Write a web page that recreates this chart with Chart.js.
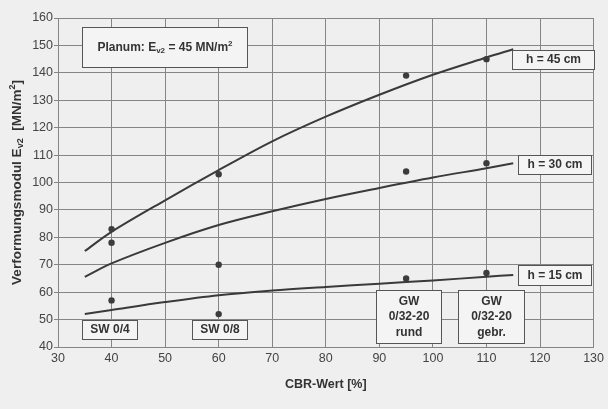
<!DOCTYPE html>
<html>
<head>
<meta charset="utf-8">
<script src="https://cdn.jsdelivr.net/npm/chart.js@4"></script>
<style>
  html, body { margin: 0; padding: 0; background: #efefef; }
  #wrap { width: 608px; height: 409px; }
</style>
</head>
<body>
<div id="wrap"><canvas id="chart"></canvas></div>
<script>
/*------ data ------*/
const cbrValues = [40, 60, 95, 110];
const points45 = [83, 103, 139, 145];
const points30 = [78, 70, 104, 107];
const points15 = [57, 52, 65, 67];

const curveX = [35, 40, 50, 60, 70, 80, 90, 100, 110, 115];
const curve45 = [75, 82, 93.5, 104.5, 115, 124, 132, 139.3, 145.6, 148.6];
const curve30 = [65.6, 70.5, 78, 84.5, 89.5, 94, 98, 101.8, 105.2, 107];
const curve15 = [52, 53.5, 56.4, 58.9, 60.6, 61.9, 63.1, 64.3, 65.6, 66.3];

const curveLabels = ['h = 45 cm', 'h = 30 cm', 'h = 15 cm'];
const soilLabels = [['SW 0/4'], ['SW 0/8'], ['GW', '0/32-20', 'rund'], ['GW', '0/32-20', 'gebr.']];

const xTicks = [30, 40, 50, 60, 70, 80, 90, 100, 110, 120, 130];
const yTicks = [40, 50, 60, 70, 80, 90, 100, 110, 120, 130, 140, 150, 160];

/*------ label boxes, in axis units: [x1, x2, yTop, yBottom] ------*/
const curveBoxes = [[114.7, 130, 148.3, 141.4], [115.8, 129.5, 110, 103], [115.8, 129.5, 69.9, 62.6]];
const soilBoxes = [[34.5, 44.7, 49.8, 42.8], [55.1, 65.2, 49.8, 42.8], [89.3, 101.6, 60.7, 41.4], [104.6, 117.1, 60.7, 41.4]];
const planumBox = [34.5, 65.2, 156.7, 142.1];

const toXY = (xs, ys) => xs.map((x, i) => ({ x: x, y: ys[i] }));

const lineColor = '#3a3a3a';
const gridColor = '#858585';
const textColor = '#333';
const FONT = '"Liberation Sans", Arial, sans-serif';

function curveSet(ys) {
    return {
        data: toXY(curveX, ys),
        showLine: true,
        borderColor: lineColor,
        borderWidth: 2,
        pointRadius: 0,
        tension: 0.35,
        order: 2
    };
}

function pointSet(ys) {
    return {
        data: toXY(cbrValues, ys),
        showLine: false,
        pointRadius: 3.2,
        pointBackgroundColor: '#3c3c3c',
        pointBorderWidth: 0,
        order: 1
    };
}

// text with sub/superscripts, centred on cx, cy
function drawRich(ctx, parts, cx, cy, size) {
    size = size || 12;
    const big = 'bold ' + size + 'px ' + FONT;
    const small = 'bold ' + Math.round(size * 0.68) + 'px ' + FONT;
    let total = 0;
    parts.forEach(p => {
        ctx.font = p.s ? small : big;
        p.w = ctx.measureText(p.t).width;
        total += p.w;
    });
    let x = cx - total / 2;
    ctx.textAlign = 'left';
    ctx.textBaseline = 'middle';
    parts.forEach(p => {
        ctx.font = p.s ? small : big;
        let dy = 0;
        if (p.s === 'sub') dy = size * 0.25;
        if (p.s === 'sup') dy = -size * 0.33;
        ctx.fillText(p.t, x, cy + dy);
        x += p.w;
    });
}

function drawBox(ctx, sx, sy, b) {
    const x1 = Math.round(sx.getPixelForValue(b[0])) + 0.5;
    const x2 = Math.round(sx.getPixelForValue(b[1])) + 0.5;
    const y1 = Math.round(sy.getPixelForValue(b[2])) + 0.5;
    const y2 = Math.round(sy.getPixelForValue(b[3])) + 0.5;
    ctx.fillStyle = '#f4f4f4';
    ctx.fillRect(x1, y1, x2 - x1, y2 - y1);
    ctx.strokeStyle = '#555';
    ctx.lineWidth = 1;
    ctx.strokeRect(x1, y1, x2 - x1, y2 - y1);
    return { cx: (x1 + x2) / 2, cy: (y1 + y2) / 2 };
}

const labelPlugin = {
    id: 'labels',
    afterDatasetsDraw(chart) {
        const ctx = chart.ctx;
        const sx = chart.scales.x, sy = chart.scales.y;
        ctx.save();

        let c = drawBox(ctx, sx, sy, planumBox);
        ctx.fillStyle = textColor;
        drawRich(ctx, [{ t: 'Planum: E' }, { t: 'v2', s: 'sub' }, { t: ' = 45 MN/m' }, { t: '2', s: 'sup' }], c.cx, c.cy, 12);

        curveLabels.forEach((txt, i) => {
            const p = drawBox(ctx, sx, sy, curveBoxes[i]);
            ctx.fillStyle = textColor;
            ctx.font = 'bold 12px ' + FONT;
            ctx.textAlign = 'center';
            ctx.textBaseline = 'middle';
            ctx.fillText(txt, p.cx, p.cy);
        });

        soilLabels.forEach((lines, i) => {
            const p = drawBox(ctx, sx, sy, soilBoxes[i]);
            ctx.fillStyle = textColor;
            ctx.font = 'bold 12px ' + FONT;
            ctx.textAlign = 'center';
            ctx.textBaseline = 'middle';
            const lh = 15.5;
            lines.forEach((l, j) => {
                ctx.fillText(l, p.cx, p.cy + (j - (lines.length - 1) / 2) * lh);
            });
        });

        // axis titles
        const area = chart.chartArea;
        ctx.fillStyle = textColor;
        ctx.font = 'bold 12.5px ' + FONT;
        ctx.textAlign = 'center';
        ctx.textBaseline = 'middle';
        ctx.fillText('CBR-Wert [%]', (area.left + area.right) / 2, 385);

        ctx.translate(17, (area.top + area.bottom) / 2);
        ctx.rotate(-Math.PI / 2);
        drawRich(ctx, [{ t: 'Verformungsmodul E' }, { t: 'v2', s: 'sub' }, { t: '  [MN/m' }, { t: '2', s: 'sup' }, { t: ']' }], 0, 0, 13.5);
        ctx.restore();
    }
};

const ctx = document.getElementById('chart').getContext('2d');
const chart = new Chart(ctx, {
    type: 'scatter',
    data: {
        datasets: [
            curveSet(curve45), curveSet(curve30), curveSet(curve15),
            pointSet(points45), pointSet(points30), pointSet(points15)
        ]
    },
    options: {
        responsive: true,
        maintainAspectRatio: false,
        animation: false,
        layout: { padding: { left: 0, right: 13, top: 18, bottom: 0 } },
        plugins: { legend: { display: false }, tooltip: { enabled: false } },
        scales: {
            x: {
                type: 'linear',
                min: 30, max: 130,
                afterBuildTicks: s => { s.ticks = xTicks.map(v => ({ value: v })); },
                afterFit: s => { s.height = 62; },
                grid: { color: gridColor, lineWidth: 1, tickLength: 0, drawTicks: false },
                border: { color: gridColor, width: 1 },
                ticks: { color: '#444', font: { family: FONT, size: 12.5 }, padding: 4, maxRotation: 0 }
            },
            y: {
                type: 'linear',
                min: 40, max: 160,
                afterBuildTicks: s => { s.ticks = yTicks.map(v => ({ value: v })); },
                afterFit: s => { s.width = 58; },
                grid: { color: gridColor, lineWidth: 1, tickLength: 4 },
                border: { color: gridColor, width: 1 },
                ticks: { color: '#444', font: { family: FONT, size: 12.5 }, padding: 1 }
            }
        }
    },
    plugins: [labelPlugin]
});
</script>
</body>
</html>
